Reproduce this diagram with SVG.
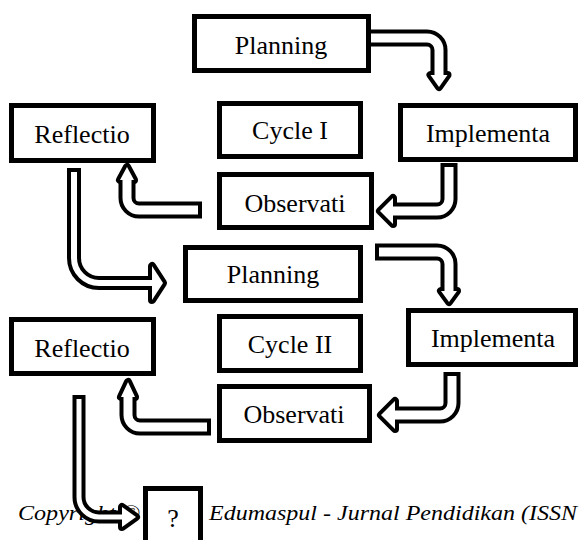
<svg xmlns="http://www.w3.org/2000/svg" width="580" height="540" viewBox="0 0 580 540">
<style>
.box{fill:#fff;stroke:#000;stroke-width:5}
.lbl{font-family:"Liberation Serif","Times New Roman",serif;font-size:26px;text-anchor:middle;fill:#000}
.foot{font-family:"Liberation Serif","Times New Roman",serif;font-style:italic;font-size:21px;fill:#000}
.ob{fill:none;stroke:#000;stroke-width:17}
.iw{fill:none;stroke:#fff;stroke-width:9}
.ob.t{stroke-width:14}
.iw.t{stroke-width:6}
.ob.tt{stroke-width:13}
.iw.tt{stroke-width:5}
.hb{fill:#000;stroke:#000;stroke-width:8;stroke-linejoin:round}
.hw{fill:#fff}
</style>
<rect width="580" height="540" fill="#fff"/>
<g id="planning1"><rect class="box" x="194.5" y="16.5" width="174" height="54"/><text class="lbl" x="281" y="54">Planning</text></g>
<g id="reflection1"><rect class="box" x="11.5" y="105.5" width="142" height="55"/><text class="lbl" x="82" y="143">Reflectio</text></g>
<g id="cycle1"><rect class="box" x="219.5" y="103.5" width="141" height="53"/><text class="lbl" x="290" y="139">Cycle I</text></g>
<g id="implementation1"><rect class="box" x="400.5" y="105.5" width="175" height="54"/><text class="lbl" x="488" y="142">Implementa</text></g>
<g id="observation1"><rect class="box" x="219.5" y="174.5" width="152" height="53"/><text class="lbl" x="295" y="212">Observati</text></g>
<g id="planning2"><rect class="box" x="185.5" y="247.5" width="175" height="53"/><text class="lbl" x="273" y="283">Planning</text></g>
<g id="reflection2"><rect class="box" x="11.5" y="319.5" width="142" height="54"/><text class="lbl" x="82" y="357">Reflectio</text></g>
<g id="cycle2"><rect class="box" x="219.5" y="316.5" width="141" height="54"/><text class="lbl" x="290" y="353">Cycle II</text></g>
<g id="implementation2"><rect class="box" x="408.5" y="310.5" width="167" height="54"/><text class="lbl" x="493" y="347">Implementa</text></g>
<g id="observation2"><rect class="box" x="219.5" y="386.5" width="150" height="54"/><text class="lbl" x="294" y="423">Observati</text></g>
<g id="unknown"><rect class="box" x="145.5" y="488.5" width="55" height="60"/><text class="lbl" x="173" y="527">?</text></g>
<g id="footer">
<text class="foot" x="18" y="520" textLength="122" lengthAdjust="spacingAndGlyphs">Copyright ©</text>
<text class="foot" x="209" y="520" textLength="368" lengthAdjust="spacingAndGlyphs">Edumaspul - Jurnal Pendidikan (ISSN</text>
</g>
<g id="connectors">
<path class="ob" d="M369,38 H427 A12,12 0 0 1 439,50 V75"/>
<polygon class="hb" points="430.5,75 447.5,75 439,87"/>
<path class="iw" d="M371,38 H427 A12,12 0 0 1 439,50 V75"/>
<polygon class="hw" points="430.5,75 447.5,75 439,87"/>

<path class="ob" d="M449,163 V199 A12,12 0 0 1 437,211 H393"/>
<polygon class="hb" points="393,198 393,224 380,211"/>
<path class="iw" d="M449,167 V199 A12,12 0 0 1 437,211 H393"/>
<polygon class="hw" points="393,198 393,224 380,211"/>

<path class="ob" d="M202,210 H139 A12,12 0 0 1 127,198 V180"/>
<polygon class="hb" points="120,180 134,180 127,167"/>
<path class="iw" d="M198,210 H139 A12,12 0 0 1 127,198 V180"/>
<polygon class="hw" points="120,180 134,180 127,167"/>

<path class="ob t" d="M74,168 V258 A25,25 0 0 0 99,283 H152"/>
<polygon class="hb" points="152,266 152,300 163,283"/>
<path class="iw t" d="M74,172 V258 A25,25 0 0 0 99,283 H152"/>
<polygon class="hw" points="152,266 152,300 163,283"/>

<path class="ob" d="M375,252 H437 A12,12 0 0 1 449,264 V291"/>
<polygon class="hb" points="441,291 457,291 449,302"/>
<path class="iw" d="M379,252 H437 A12,12 0 0 1 449,264 V291"/>
<polygon class="hw" points="441,291 457,291 449,302"/>

<path class="ob" d="M452,372 V403 A12,12 0 0 1 440,415 H395"/>
<polygon class="hb" points="395,401 395,429 381,415"/>
<path class="iw" d="M452,376 V403 A12,12 0 0 1 440,415 H395"/>
<polygon class="hw" points="395,401 395,429 381,415"/>

<path class="ob" d="M211,427 H140 A12,12 0 0 1 128,415 V397"/>
<polygon class="hb" points="121,397 135,397 128,382"/>
<path class="iw" d="M207,427 H140 A12,12 0 0 1 128,415 V397"/>
<polygon class="hw" points="121,397 135,397 128,382"/>

<path class="ob tt" d="M79,395 V497 A20,20 0 0 0 99,517 H122"/>
<polygon class="hb" points="122,507 122,527 136,517"/>
<path class="iw tt" d="M79,399 V497 A20,20 0 0 0 99,517 H122"/>
<polygon class="hw" points="122,507 122,527 136,517"/>
</g>
</svg>
